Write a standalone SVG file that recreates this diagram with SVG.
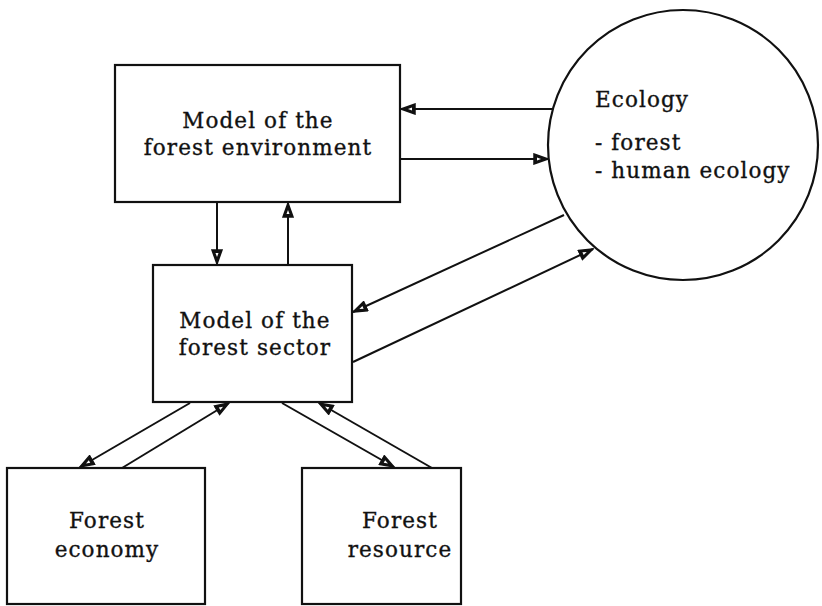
<svg xmlns="http://www.w3.org/2000/svg" width="822" height="606" viewBox="0 0 822 606">
  <style>
    .box { fill: #fff; stroke: #111; stroke-width: 2.2; }
    .lbl { font-family: "DejaVu Serif", "Liberation Serif", serif; font-size: 21.5px; letter-spacing: 1.1px; fill: #111; stroke: #111; stroke-width: 0.35; }
    .mid { text-anchor: middle; }
    .link { stroke: #111; stroke-width: 2; fill: none; marker-end: url(#head); }
  </style>
  <defs>
    <marker id="head" viewBox="0 0 16 12" refX="15" refY="6" markerWidth="16" markerHeight="12" markerUnits="userSpaceOnUse" orient="auto">
      <path d="M1,1 L15,6 L1,11 Z" fill="#111" stroke="#111" stroke-width="1.5" stroke-linejoin="miter"/>
      <path d="M4,4.5 L8,6 L4,7.5 Z" fill="#fff"/>
    </marker>
  </defs>

  <rect width="822" height="606" fill="#fff"/>

  <g id="connectors">
    <!-- ecology <-> environment model -->
    <line class="link" x1="553" y1="109" x2="401" y2="109"/>
    <line class="link" x1="401" y1="159" x2="548" y2="159"/>
    <!-- environment model <-> sector model -->
    <line class="link" x1="217" y1="202" x2="217" y2="264"/>
    <line class="link" x1="288" y1="265" x2="288" y2="203"/>
    <!-- ecology <-> sector model -->
    <line class="link" x1="564" y1="215" x2="353" y2="312"/>
    <line class="link" x1="353" y1="362" x2="593" y2="249"/>
    <!-- sector model <-> forest economy -->
    <line class="link" x1="190" y1="403" x2="80" y2="467"/>
    <line class="link" x1="122" y1="468" x2="229" y2="403"/>
    <!-- sector model <-> forest resource -->
    <line class="link" x1="282" y1="403" x2="394" y2="467"/>
    <line class="link" x1="432" y1="468" x2="319" y2="403"/>
  </g>

  <g id="environment-model">
    <rect class="box" x="115" y="65" width="285" height="137"/>
    <text class="lbl mid" x="258" y="128">Model of the</text>
    <text class="lbl mid" x="258" y="155">forest environment</text>
  </g>

  <g id="ecology">
    <circle class="box" cx="683" cy="145" r="135"/>
    <text class="lbl" x="595" y="107">Ecology</text>
    <text class="lbl" x="595" y="150">- forest</text>
    <text class="lbl" x="595" y="178">- human ecology</text>
  </g>

  <g id="sector-model">
    <rect class="box" x="153" y="265" width="199" height="137"/>
    <text class="lbl mid" x="255" y="328">Model of the</text>
    <text class="lbl mid" x="255" y="355">forest sector</text>
  </g>

  <g id="forest-economy">
    <rect class="box" x="7" y="468" width="198" height="136"/>
    <text class="lbl mid" x="107" y="528">Forest</text>
    <text class="lbl mid" x="107" y="557">economy</text>
  </g>

  <g id="forest-resource">
    <rect class="box" x="302" y="468" width="159" height="136"/>
    <text class="lbl mid" x="400" y="528">Forest</text>
    <text class="lbl mid" x="400" y="557">resource</text>
  </g>
</svg>
